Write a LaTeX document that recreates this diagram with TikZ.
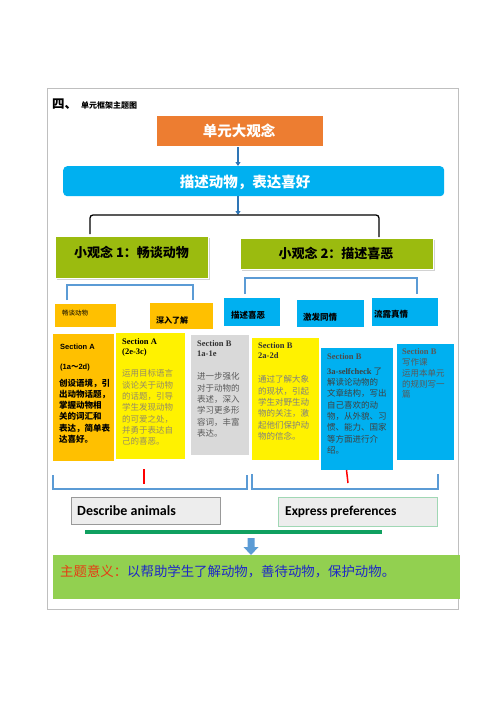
\documentclass[tikz,border=0pt]{standalone}
\usepackage{fontspec}
\setmainfont{Liberation Serif}
\setsansfont{Liberation Sans}
\newfontfamily\cjk{Noto Sans CJK SC}
\newfontfamily\cali{Carlito}
\usetikzlibrary{arrows.meta,shadows}
\definecolor{bigorange}{RGB}{237,125,49}
\definecolor{skyblue}{RGB}{0,176,240}
\definecolor{olivegreen}{RGB}{155,187,15}
\definecolor{amber}{RGB}{255,192,0}
\definecolor{lightgrey}{RGB}{217,217,217}
\definecolor{brkblue}{RGB}{91,155,213}
\definecolor{arrblue}{RGB}{46,117,182}
\definecolor{linegreen}{RGB}{16,160,96}
\definecolor{botgreen}{RGB}{146,208,80}
\definecolor{themered}{RGB}{230,60,20}
\definecolor{themeblue}{RGB}{30,40,200}
\definecolor{yeltext}{RGB}{150,140,100}
\tikzset{
  bx/.style={rectangle, inner sep=0pt, anchor=north west},
  shade1/.style={drop shadow={opacity=0.35, shadow xshift=1.5pt, shadow yshift=-1.5pt}},
  txt/.style={inner sep=0pt, anchor=north west, align=left},
  arr/.style={draw=arrblue, line width=1.3pt, -{Triangle[width=5pt,length=4pt]}},
  brk/.style={draw=brkblue, line width=2pt},
  cjkhead/.style={font=\cjk\bfseries\fontsize{14.5}{16}\selectfont, text=white},
  cjkmid/.style={font=\cjk\bfseries\fontsize{13}{15}\selectfont, text=black},
  body/.style={font=\cjk\fontsize{8.5}{11.3}\selectfont},
  sechead/.style={font=\bfseries\fontsize{8.5}{10}\selectfont},
}
\begin{document}
\begin{tikzpicture}[x=1pt,y=-1pt]
\useasboundingbox (0,0) rectangle (500,707);
\fill[white] (0,0) rectangle (500,707);
% frame
\node[bx, draw=black!25, line width=1.2pt, minimum width=411pt, minimum height=521pt] (frame) at (47,88) {};
% title
\node[anchor=west, inner sep=0pt, font=\cjk\bfseries\fontsize{12.5}{14}\selectfont] (t1) at (52,104) {四、};
\node[anchor=west, inner sep=0pt, font=\cjk\bfseries\fontsize{8}{10}\selectfont] (t2) at (81,105.5) {单元框架主题图};
% big orange
\node[bx, fill=bigorange, draw=white, line width=1.5pt, shade1, minimum width=168pt, minimum height=32pt] (big) at (155,114) {};
\node[cjkhead] (bigt) at (239,131) {单元大观念};
% blue band
\node[bx, fill=skyblue, rounded corners=4pt, minimum width=381pt, minimum height=30pt] (band) at (63,166) {};
\node[cjkhead] (bandt) at (245,182) {描述动物，表达喜好};
\coordinate (a1) at (238,147);
\draw[arr] (a1) -- (a1 |- band.north);
% bracket
\coordinate (bt) at (238,215);
\coordinate (bkl) at (90,234);
\coordinate (bkr) at (379,237);
\draw[arr] (bt |- band.south) -- (bt);
\draw[black, line width=1.3pt, rounded corners=3pt] (bkl) |- (bt) -| (bkr);
% green boxes
\node[bx, fill=olivegreen, draw=white, line width=1pt, shade1, minimum width=153pt, minimum height=42pt] (g1) at (55,236) {};
\node[cjkmid] (g1t) at (131.5,252.5) {小观念 1：畅谈动物};
\node[bx, fill=olivegreen, draw=white, line width=1pt, shade1, minimum width=193pt, minimum height=31pt] (g2) at (240,238) {};
\node[cjkmid] (g2t) at (336,253.5) {小观念 2：描述喜恶};
% blue brackets under green
\coordinate (b1l) at (67,300);
\coordinate (b1r) at (193,300);
\coordinate (b2l) at (245,294);
\coordinate (b2r) at (417,294);
\draw[brk] (b1l) -- ++(0,-15) -| (b1r);
\draw[brk] (b2l) -- ++(0,-16) -| (b2r);
% small boxes
\node[bx, fill=amber, minimum width=61pt, minimum height=23pt] (s1) at (55,304) {};
\node[anchor=west, inner sep=0pt, font=\cjk\fontsize{6.5}{8}\selectfont] (s1t) at (62,313) {畅谈动物};
\node[bx, fill=amber, minimum width=63pt, minimum height=26pt] (s2) at (150,303) {};
\node[anchor=west, inner sep=0pt, font=\cjk\bfseries\fontsize{8}{10}\selectfont] (s2t) at (156,320) {深入了解};
\node[bx, fill=skyblue, minimum width=56pt, minimum height=28pt] (s3) at (224,298) {};
\node[anchor=west, inner sep=0pt, font=\cjk\bfseries\fontsize{8.5}{10}\selectfont] (s3t) at (231,315) {描述喜恶};
\node[bx, fill=skyblue, minimum width=67pt, minimum height=27pt] (s4) at (297,300) {};
\node[anchor=west, inner sep=0pt, font=\cjk\bfseries\fontsize{8.5}{10}\selectfont] (s4t) at (303,317) {激发同情};
\node[bx, fill=skyblue, minimum width=66pt, minimum height=28pt] (s5) at (372,298) {};
\node[anchor=west, inner sep=0pt, font=\cjk\bfseries\fontsize{8.5}{10}\selectfont] (s5t) at (374,314) {流露真情};
% section boxes
\node[bx, fill=amber, minimum width=61pt, minimum height=127pt] (so1) at (53,334) {};
\node[bx, fill=yellow, minimum width=69pt, minimum height=126pt] (so2) at (116,333) {};
\node[bx, fill=lightgrey, minimum width=58pt, minimum height=120pt] (so3) at (191,335) {};
\node[bx, fill=yellow, minimum width=67pt, minimum height=122pt] (so4) at (252,338) {};
\node[bx, fill=skyblue, minimum width=72pt, minimum height=122pt] (so5) at (321,348) {};
\node[bx, fill=skyblue, minimum width=57pt, minimum height=116pt] (so6) at (397,344) {};
% section 1
\node[txt, font=\sffamily\bfseries\fontsize{7.5}{9}\selectfont] (so1h) at (60,344) {Section A};
\node[txt, font=\sffamily\bfseries\fontsize{7.5}{9}\selectfont] (so1h2) at (60,364) {(1a{\cjk ～}2d)};
\node[txt, font=\cjk\bfseries\fontsize{8.5}{11.3}\selectfont] (so1b) at (59,378.5) {创设语境，引\\出动物话题，\\掌握动物相\\关的词汇和\\表达，简单表\\达喜好。};
% section 2
\node[txt, sechead] (so2h) at (122,338) {Section A\\(2e-3c)};
\node[txt, body, text=yeltext] (so2b) at (122,369.5) {运用目标语言\\谈论关于动物\\的话题，引导\\学生发现动物\\的可爱之处，\\并勇于表达自\\己的喜恶。};
% section 3
\node[txt, sechead, text=black!80] (so3h) at (197,340) {Section B\\1a-1e};
\node[txt, body, text=black!65] (so3b) at (197,372.5) {进一步强化\\对于动物的\\表述，深入\\学习更多形\\容词，丰富\\表达。};
% section 4
\node[txt, sechead, text=black!80] (so4h) at (258,342) {Section B\\2a-2d};
\node[txt, body, text=black!50] (so4b) at (258,375.5) {通过了解大象\\的现状，引起\\学生对野生动\\物的关注，激\\起他们保护动\\物的信念。};
% section 5
\node[txt, sechead, text=black!70] (so5h) at (327,353) {Section B};
\node[txt, font=\fontsize{8.5}{11.3}\selectfont, text=black!75] (so5b) at (327,367.5) {{\bfseries 3a-selfcheck} {\cjk 了}\\{\cjk 解读论动物的}\\{\cjk 文章结构，写出}\\{\cjk 自己喜欢的动}\\{\cjk 物，从外貌、习}\\{\cjk 惯、能力、国家}\\{\cjk 等方面进行介}\\{\cjk 绍。}};
% section 6
\node[txt, font=\fontsize{8.5}{10.8}\selectfont, text=black!65] (so6b) at (402,348.5) {{\bfseries Section B}\\{\cjk 写作课}\\{\cjk 运用本单元}\\{\cjk 的规则写一}\\{\cjk 篇}};
% red ticks
\coordinate (r1a) at (144,469);
\coordinate (r1b) at (144,484);
\coordinate (r2a) at (346.5,470);
\coordinate (r2b) at (348,483);
\draw[red, line width=1.5pt] (r1a) -- (r1b);
\draw[red, line width=1.5pt] (r2a) -- (r2b);
% lower brackets
\coordinate (l1l) at (53,475);
\coordinate (l1r) at (247,475);
\coordinate (l2l) at (252,474);
\coordinate (l2r) at (438,474);
\draw[brk, line width=1.6pt] (l1l) -- ++(0,14) -| (l1r);
\draw[brk, line width=1.6pt] (l2l) -- ++(0,15) -| (l2r);
% describe / express
\node[bx, fill=black!7, draw=black!40, line width=0.9pt, minimum width=149pt, minimum height=27pt] (desc) at (71,497) {};
\node[anchor=west, inner sep=0pt, font=\cali\bfseries\fontsize{14}{16}\selectfont] (desct) at (77,511) {Describe animals};
\node[bx, fill=black!7, draw={rgb,255:red,160;green,215;blue,180}, line width=0.9pt, minimum width=159pt, minimum height=29pt] (expr) at (278,497) {};
\node[anchor=west, inner sep=0pt, font=\cali\bfseries\fontsize{13.5}{16}\selectfont] (exprt) at (285,512) {Express preferences};
% green line
\coordinate (gl1) at (85,532);
\coordinate (gl2) at (382,532);
\draw[linegreen, line width=4pt] (gl1) -- (gl2);
% block arrow
\coordinate (ba) at (251,538);
\fill[brkblue] (ba) ++(-3.5,0) -- ++(7,0) -- ++(0,9) -- ++(4,0) -- (251,555) -- (243.5,547) -- ++(4,0) -- cycle;
% bottom theme
\node[bx, fill=botgreen, minimum width=407pt, minimum height=44pt] (theme) at (53,555) {};
\node[anchor=west, inner sep=0pt, font=\cjk\fontsize{13.4}{15}\selectfont] (themet) at (60,572) {\textcolor{themered}{主题意义：}\textcolor{themeblue}{以帮助学生了解动物，善待动物，保护动物。}};
\end{tikzpicture}
\end{document}
